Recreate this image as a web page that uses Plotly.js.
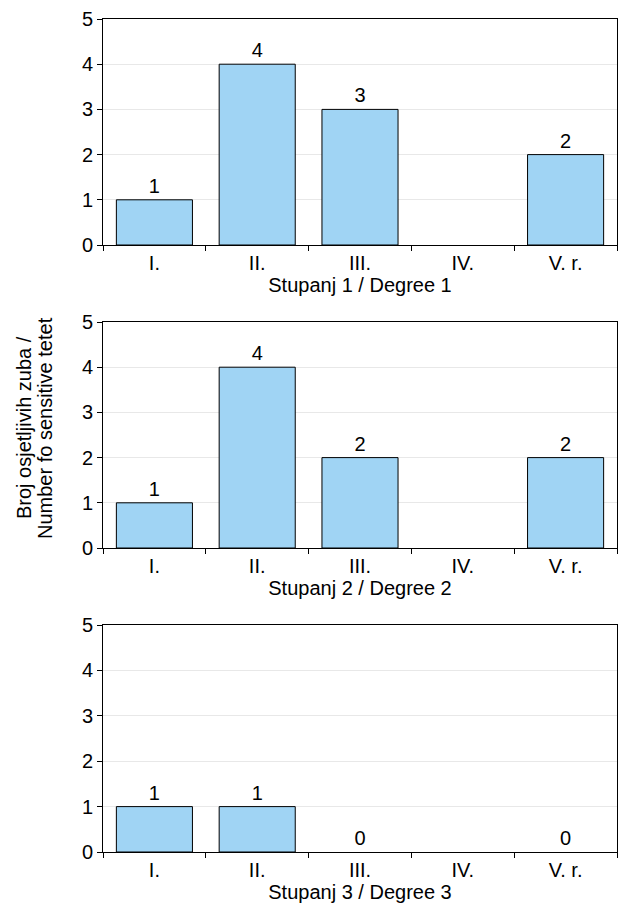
<!DOCTYPE html>
<html><head><meta charset="utf-8">
<script src="https://cdn.plot.ly/plotly-3.0.1.min.js"></script>
<style>html,body{margin:0;padding:0;background:#fff}</style>
</head><body>
<div id="chart" style="width:624px;height:905px"></div>
<script>
const categories = ['I.', 'II.', 'III.', 'IV.', 'V. r.'];
const degree1 = [1, 4, 3, null, 2];
const degree2 = [1, 4, 2, null, 2];
const degree3 = [1, 1, 0, null, 0];
const xTitles = ['Stupanj 1 / Degree 1', 'Stupanj 2 / Degree 2', 'Stupanj 3 / Degree 3'];
const yTitleLines = ['Broj osjetljivih zuba /', 'Number fo sensitive tetet'];

const series = [degree1, degree2, degree3];
const FONT = '"Liberation Sans", Arial, Helvetica, sans-serif';
const H = 905, W = 624;
const panels = [[19, 245], [322, 548], [625, 852]];
const data = series.map((vals, i) => ({
  type: 'bar',
  x: categories,
  y: vals,
  text: vals.map(v => v === null ? '' : String(v)),
  textposition: 'outside',
  cliponaxis: false,
  textfont: {family: FONT, size: 20, color: '#000'},
  marker: {color: '#a0d4f4', line: {color: '#000', width: vals.map(v => v ? 1 : 0)}},
  xaxis: i === 0 ? 'x' : 'x' + (i + 1),
  yaxis: i === 0 ? 'y' : 'y' + (i + 1),
  hoverinfo: 'none',
  showlegend: false
}));

const layout = {
  width: W, height: H,
  margin: {l: 0, r: 0, t: 0, b: 0},
  paper_bgcolor: '#fff', plot_bgcolor: '#fff',
  font: {family: FONT, size: 20, color: '#000'},
  bargap: 0.26,
  annotations: yTitleLines.map((t, k) => ({
    text: t, textangle: -90, showarrow: false,
    xref: 'paper', yref: 'paper', x: (k === 0 ? 24 : 45) / W, y: 1 - 428 / H,
    xanchor: 'center', yanchor: 'middle',
    font: {family: FONT, size: 20, color: '#000'}
  }))
};
series.forEach((_, i) => {
  const s = i === 0 ? '' : String(i + 1);
  const [top, bot] = panels[i];
  layout['xaxis' + s] = {
    domain: [103 / W, 617 / W],
    anchor: 'y' + s,
    type: 'category',
    showline: true, linecolor: '#000', linewidth: 1, mirror: true,
    ticks: 'outside', tickson: 'boundaries', ticklen: 5, tickcolor: '#000',
    tickfont: {family: FONT, size: 20, color: '#000'},
    title: {text: xTitles[i], standoff: 0, font: {family: FONT, size: 20, color: '#000'}},
    fixedrange: true
  };
  layout['yaxis' + s] = {
    domain: [1 - bot / H, 1 - top / H],
    anchor: 'x' + s,
    range: [0, 5], dtick: 1, tick0: 0,
    showline: true, linecolor: '#000', linewidth: 1, mirror: true,
    ticks: 'outside', ticklen: 5, tickcolor: '#000',
    showgrid: true, gridcolor: '#e8e8e8', gridwidth: 1,
    zeroline: false,
    tickfont: {family: FONT, size: 20, color: '#000'},
    fixedrange: true
  };
});
Plotly.newPlot('chart', data, layout, {staticPlot: true});
</script>
</body></html>
